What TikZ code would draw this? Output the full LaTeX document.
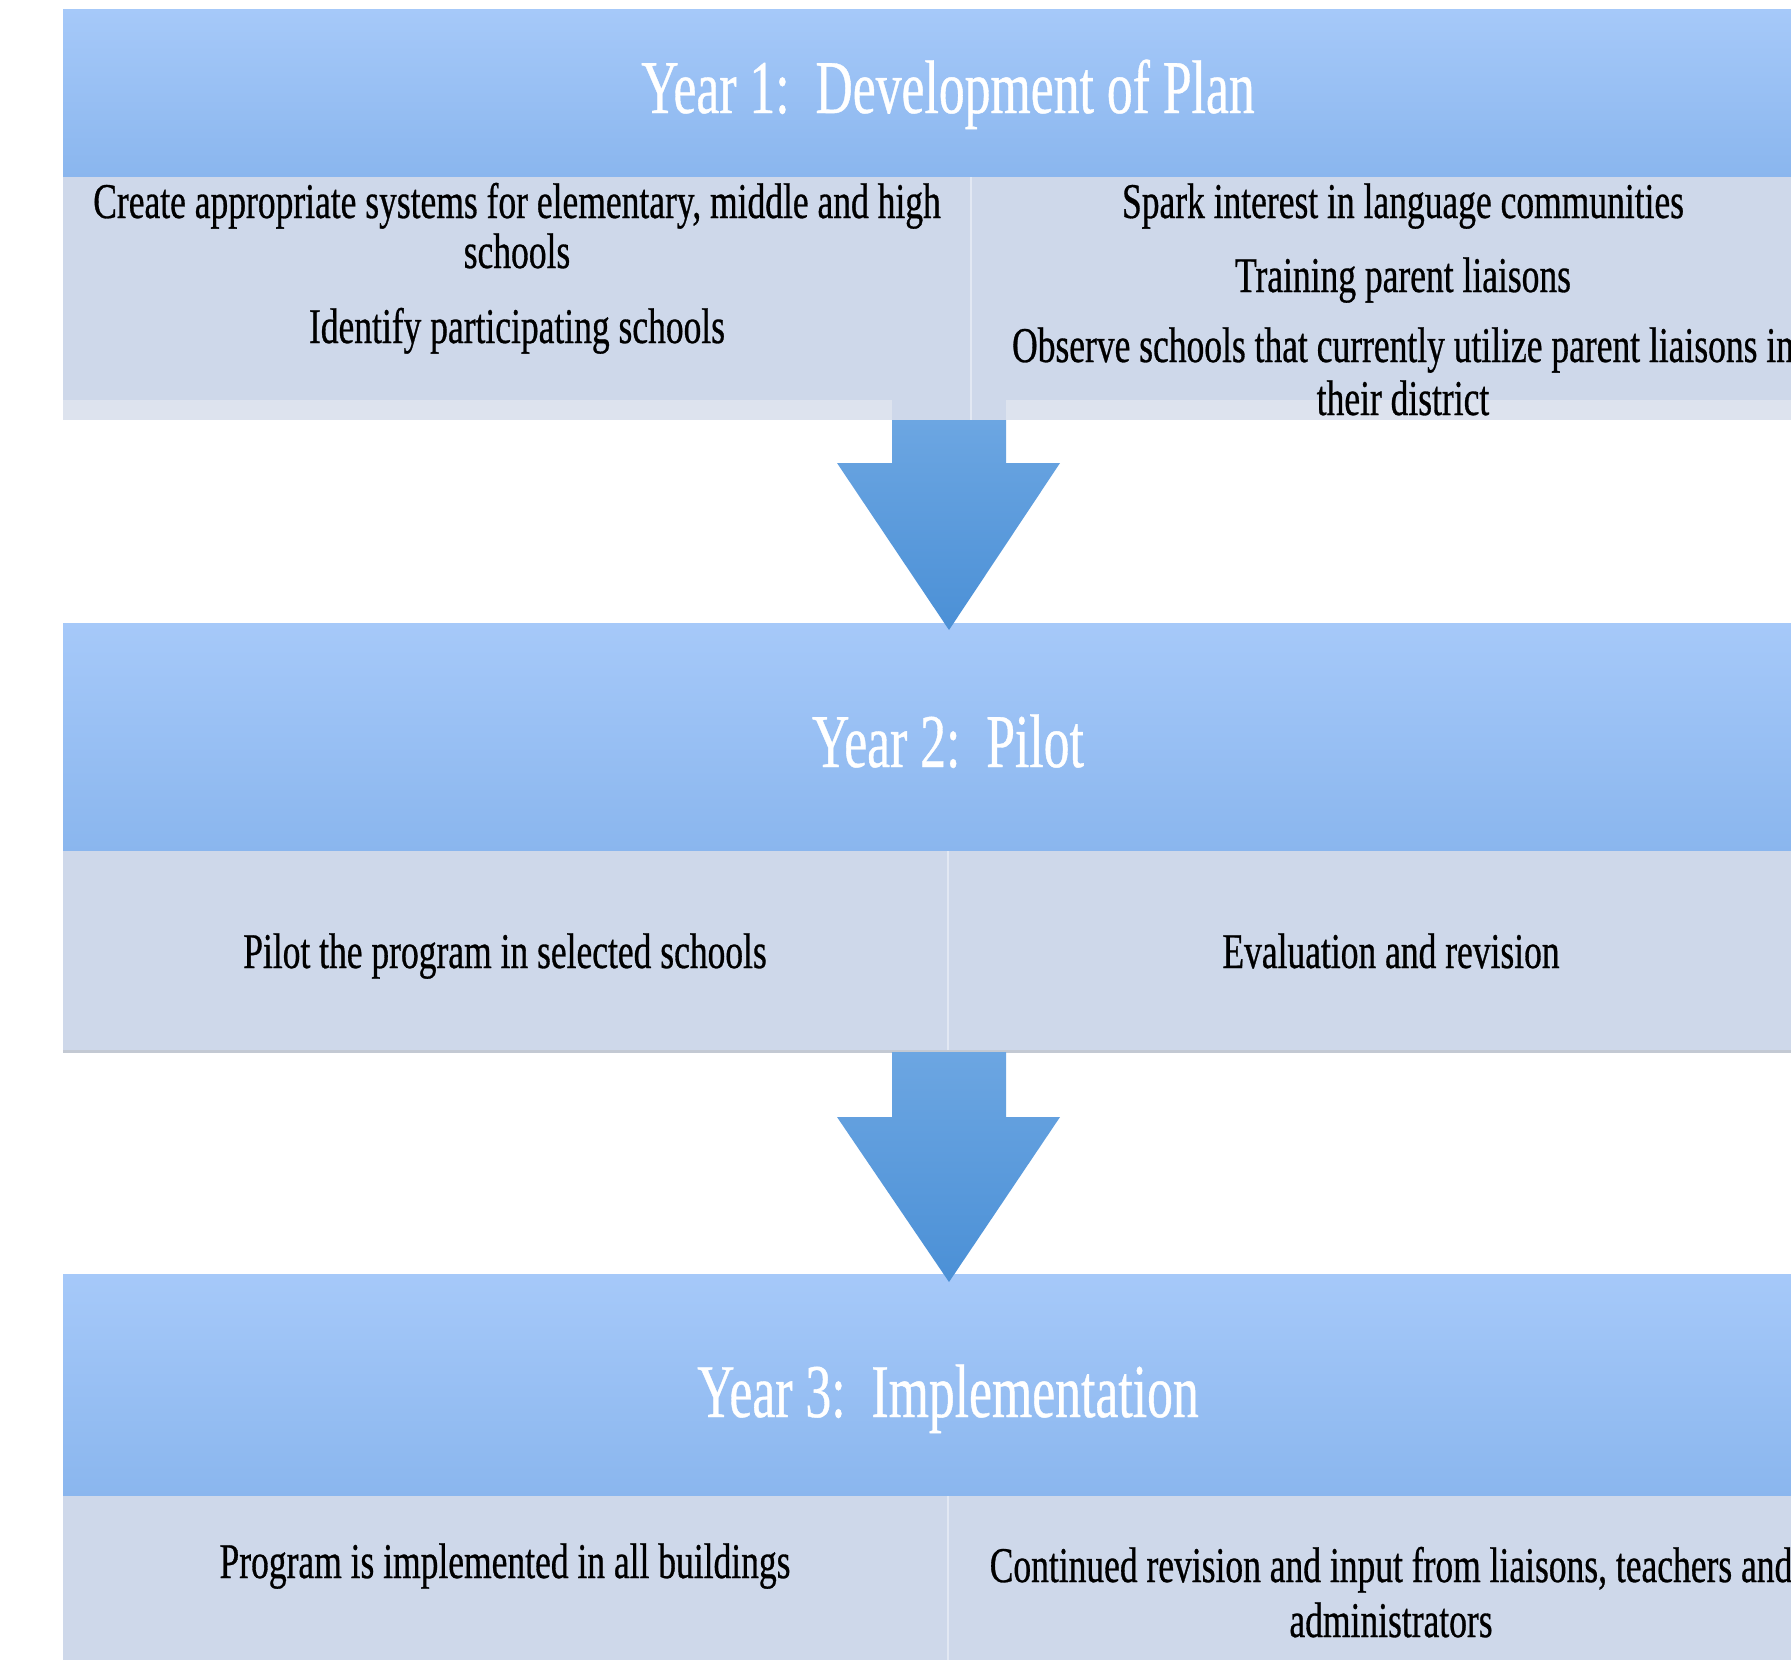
\documentclass[tikz,border=0pt]{standalone}
\usepackage{fontspec}
\setmainfont[FakeStretch=0.71,FakeBold=0.6]{Liberation Serif}
\newfontfamily\titlefont[FakeStretch=0.68,FakeBold=0.5]{Liberation Serif}
\usetikzlibrary{calc}
\definecolor{hdtop}{HTML}{A6C9F9}
\definecolor{hdbot}{HTML}{8AB6EE}
\definecolor{cellbg}{HTML}{CED8EA}
\definecolor{stripbg}{HTML}{DDE3EE}
\definecolor{arrtop}{HTML}{6CA6E2}
\definecolor{arrbot}{HTML}{4B90D6}
\definecolor{divcol}{HTML}{E2E8F3}
\definecolor{shadowcol}{HTML}{C3C9D3}
\begin{document}
\begin{tikzpicture}[x=0.5pt,y=-0.5pt,
  header/.style={top color=hdtop,bottom color=hdbot,draw=none,inner sep=0,outer sep=0,minimum width=885pt,anchor=north west},
  cell/.style={fill=cellbg,draw=none,inner sep=0,outer sep=0,anchor=north west},
  title/.style={text=white,font=\titlefont\fontsize{38}{40}\selectfont,anchor=base,inner sep=0},
  body/.style={text=black,font=\fontsize{25}{25}\selectfont,anchor=base,inner sep=0},
  blockarrow/.style={top color=arrtop,bottom color=arrbot,draw=none}]
\path[use as bounding box] (0,0) rectangle (1791,1660);
\clip (0,0) rectangle (1791,1660);
\fill[white] (0,0) rectangle (1791,1660);

% headers
\node[header,minimum height=84pt] (h1) at (63,9) {};
\node[header,minimum height=114pt] (h2) at (63,623) {};
\node[header,minimum height=111pt] (h3) at (63,1274) {};

% row 1 cells
\node[cell,minimum width=454pt,minimum height=121.5pt] (c1l) at (63,177) {};
\node[cell,minimum width=431pt,minimum height=121.5pt] (c1r) at (971,177) {};
\fill[stripbg] (63,400) rectangle (892,420);
\fill[stripbg] (1006,400) rectangle (1833,420);
\draw[divcol,line width=1pt] (c1l.north east) -- (c1l.south east);

% row 2 cells
\node[cell,minimum width=442.5pt,minimum height=100pt] (c2l) at (63,851) {};
\node[cell,minimum width=442.5pt,minimum height=100pt] (c2r) at (948,851) {};
\draw[divcol,line width=1pt] (c2l.north east) -- (c2l.south east);
\draw[shadowcol,line width=1.5pt] (c2l.south west) -- (c2r.south east);

% row 3 cells
\node[cell,minimum width=442.5pt,minimum height=82pt] (c3l) at (63,1496) {};
\node[cell,minimum width=442.5pt,minimum height=82pt] (c3r) at (948,1496) {};
\draw[divcol,line width=1pt] (c3l.north east) -- (c3l.south east);

% titles
\node[title] (t1) at (948,113) {Year 1:\ \ Development of Plan};
\node[title] (t2) at (948,767) {Year 2:\ \ Pilot};
\node[title] (t3) at (948,1417) {Year 3:\ \ Implementation};

% row 1 texts
\node[body] (r1a) at (517,218) {Create appropriate systems for elementary, middle and high};
\node[body] (r1b) at (517,268) {schools};
\node[body] (r1c) at (517,343) {Identify participating schools};
\node[body] (r1d) at (1403,218) {Spark interest in language communities};
\node[body] (r1e) at (1403,292) {Training parent liaisons};
\node[body] (r1f) at (1403,362) {Observe schools that currently utilize parent liaisons in};
\node[body] (r1g) at (1403,415) {their district};

% row 2 texts
\node[body] (r2a) at (505,968) {Pilot the program in selected schools};
\node[body] (r2b) at (1391,968) {Evaluation and revision};

% row 3 texts
\node[body] (r3a) at (505,1578) {Program is implemented in all buildings};
\node[body] (r3b) at (1391,1582) {Continued revision and input from liaisons, teachers and};
\node[body] (r3c) at (1391,1637) {administrators};

% arrows
\coordinate (a1s) at (949,420);
\coordinate (a1t) at ($(h2.north)+(1,7)$);
\shade[blockarrow] ($(a1s)+(-57,0)$) -- ($(a1s)+(57,0)$) -- ($(a1s)+(57,43)$) -- ($(a1s)+(111,43)$) -- (a1t) -- ($(a1s)+(-112,43)$) -- ($(a1s)+(-57,43)$) -- cycle;

\coordinate (a2s) at (949,1052);
\coordinate (a2t) at ($(h3.north)+(1,8)$);
\shade[blockarrow] ($(a2s)+(-57,0)$) -- ($(a2s)+(57,0)$) -- ($(a2s)+(57,65)$) -- ($(a2s)+(111,65)$) -- (a2t) -- ($(a2s)+(-112,65)$) -- ($(a2s)+(-57,65)$) -- cycle;
\end{tikzpicture}
\end{document}
